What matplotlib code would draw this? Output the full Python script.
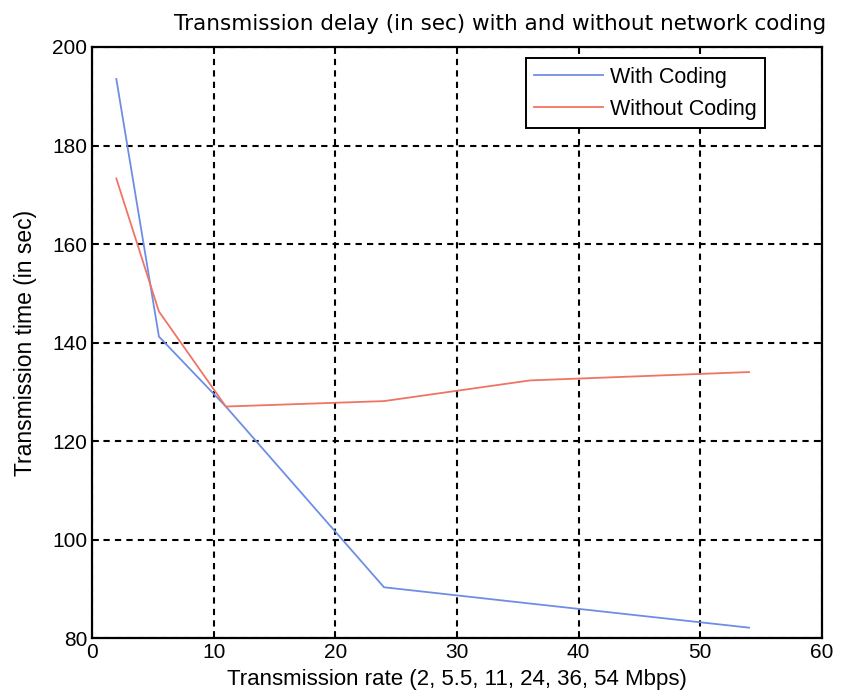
import matplotlib.pyplot as plt

rate = [2, 5.5, 11, 24, 36, 54]
with_coding = [193.5, 141.2, 127.0, 90.3, 87.0, 82.1]
without_coding = [173.3, 146.3, 127.0, 128.1, 132.3, 134.0]

plt.rcParams['font.family'] = ['Liberation Sans', 'DejaVu Sans']

fig = plt.figure(figsize=(8.47, 6.97), dpi=100)
ax = fig.add_axes([92 / 847, 1 - 638 / 697, 730 / 847, 591 / 697])

ax.plot(rate, with_coding, color='#6e8ee6', lw=1.3, label='With Coding')
ax.plot(rate, without_coding, color='#f07465', lw=1.3, label='Without Coding')

ax.set_xlim(0, 60)
ax.set_ylim(80, 200)
ax.set_xticks(range(0, 61, 10))
ax.set_yticks(range(80, 201, 20))
ax.grid(True, color='black', linestyle=(0, (3, 2.5)), linewidth=1.5)
ax.tick_params(direction='in', length=5, width=1.2, labelsize=15,
               top=True, right=True)
for s in ax.spines.values():
    s.set_linewidth(1.6)

ax.set_xlabel('Transmission rate (2, 5.5, 11, 24, 36, 54 Mbps)', fontsize=16, labelpad=5)
ax.set_ylabel('Transmission time (in sec)', fontsize=16.5, labelpad=11)
ax.set_title('Transmission delay (in sec) with and without network coding',
             fontsize=15.5, family='DejaVu Sans', pad=12, x=0.559)

leg = ax.legend(loc='upper right', bbox_to_anchor=(0.922, 0.981), borderaxespad=0,
                fontsize=15.5, fancybox=False, framealpha=1, edgecolor='black',
                handlelength=3.2, handletextpad=0.3, labelspacing=0.5)
leg.get_frame().set_linewidth(1.4)

fig.savefig('out.png', dpi=100)
